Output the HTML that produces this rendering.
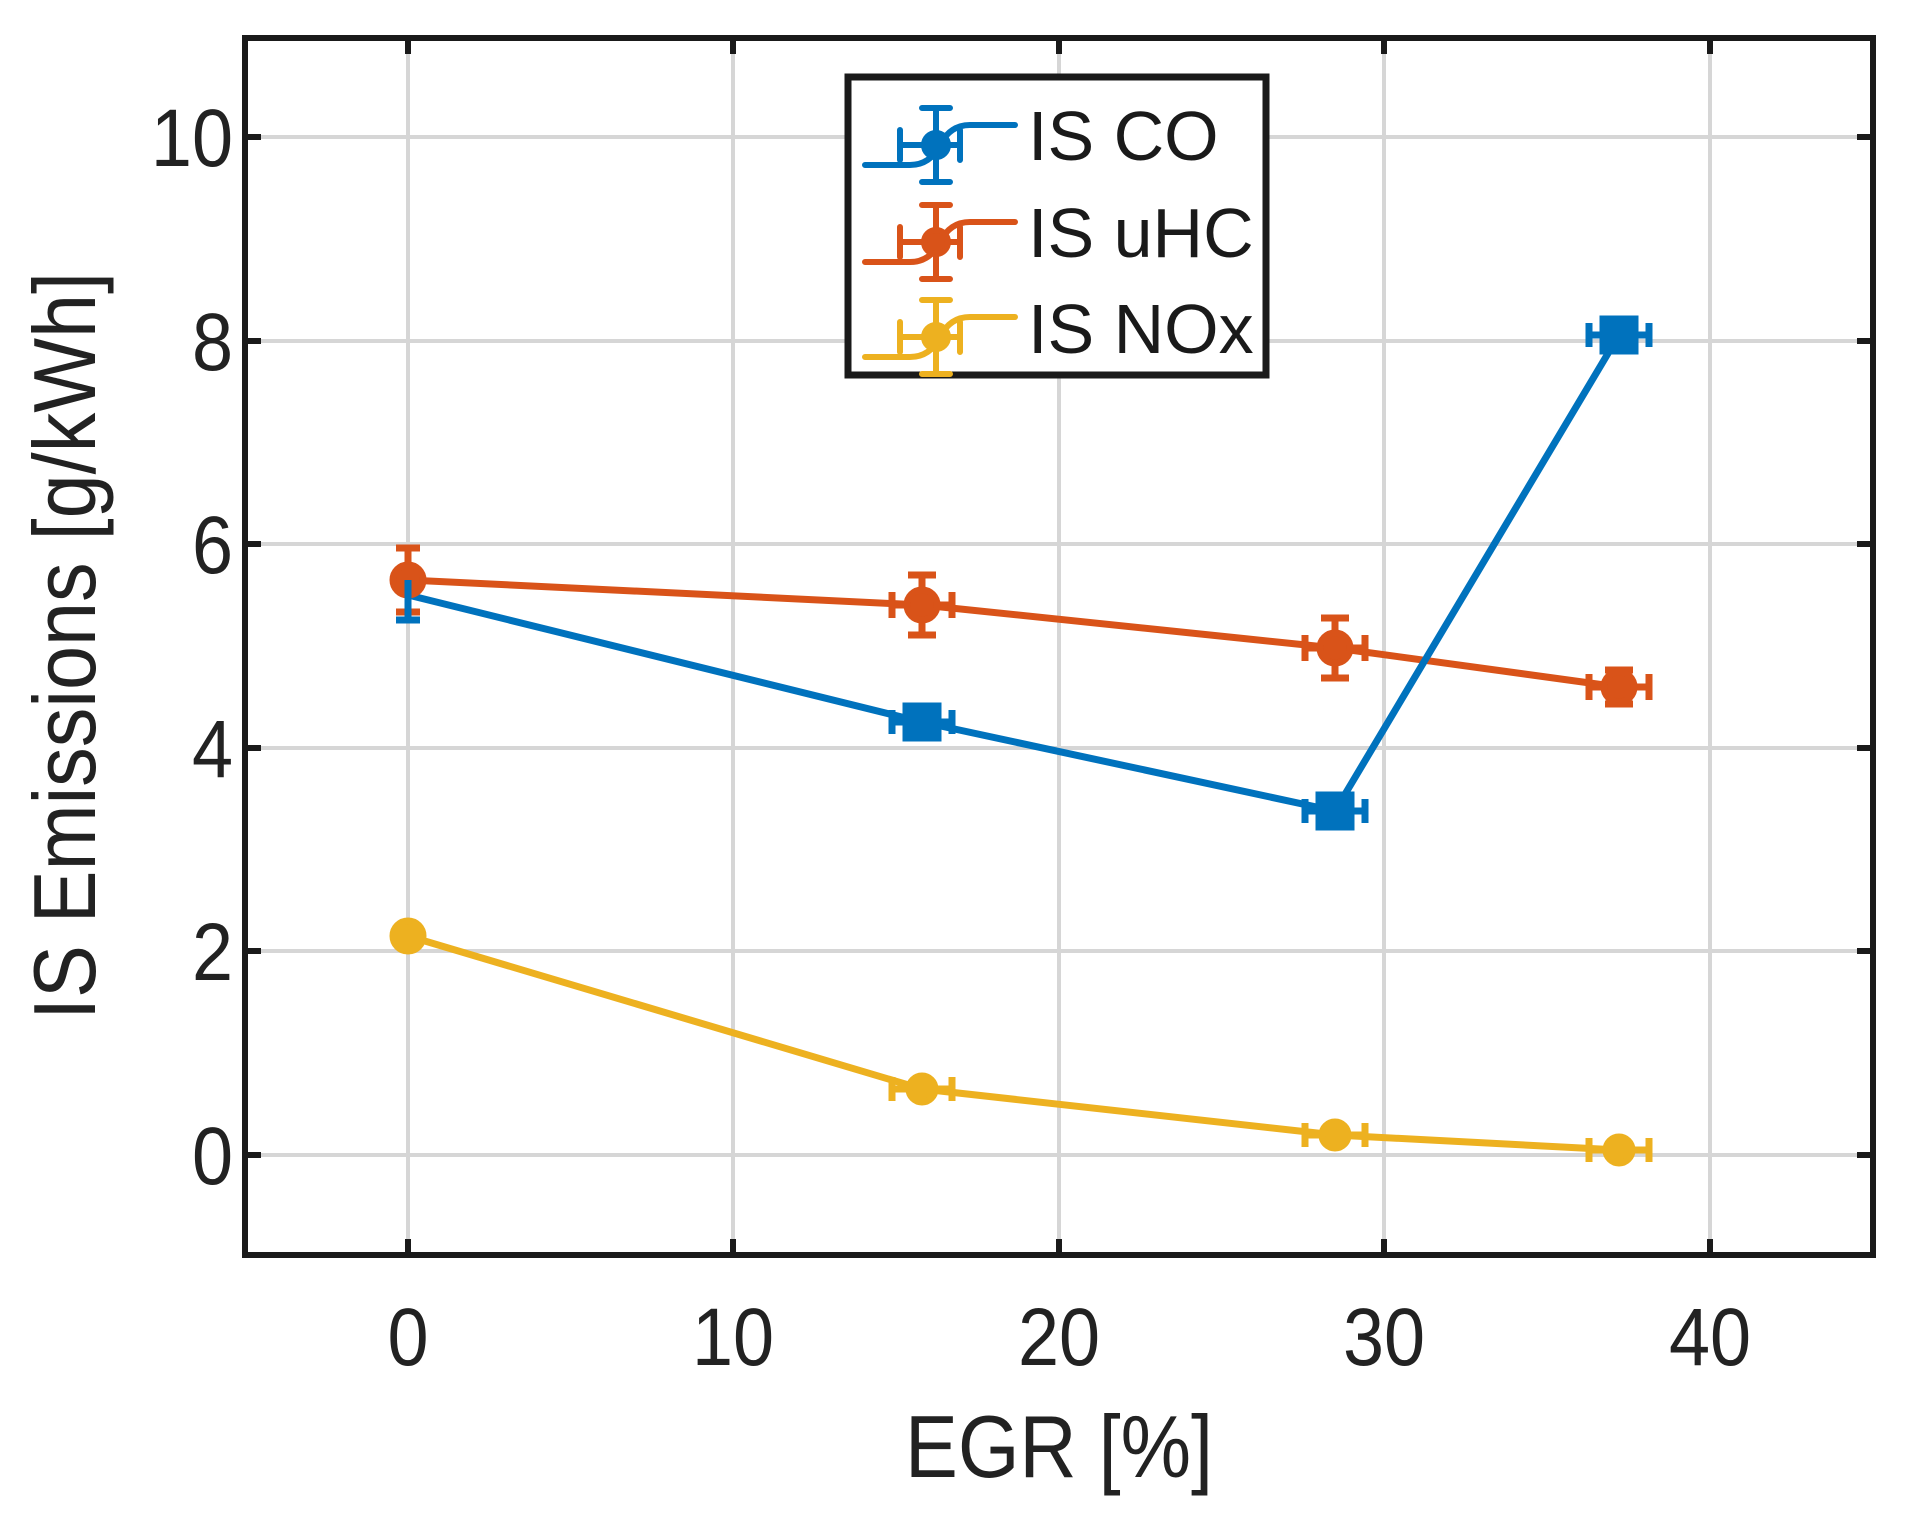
<!DOCTYPE html>
<html><head><meta charset="utf-8"><style>html,body{margin:0;padding:0;background:#fff}svg{display:block}</style></head>
<body>
<svg width="1916" height="1528" viewBox="0 0 1916 1528" xmlns="http://www.w3.org/2000/svg" font-family="Liberation Sans, sans-serif">
<rect width="1916" height="1528" fill="#fff"/>
<g stroke="#d6d6d6" stroke-width="4">
<line x1="408" y1="38" x2="408" y2="1255"/><line x1="733" y1="38" x2="733" y2="1255"/><line x1="1059" y1="38" x2="1059" y2="1255"/><line x1="1384" y1="38" x2="1384" y2="1255"/><line x1="1710" y1="38" x2="1710" y2="1255"/>
<line x1="245" y1="1155" x2="1873" y2="1155"/><line x1="245" y1="951" x2="1873" y2="951"/><line x1="245" y1="748" x2="1873" y2="748"/><line x1="245" y1="544" x2="1873" y2="544"/><line x1="245" y1="341" x2="1873" y2="341"/><line x1="245" y1="137" x2="1873" y2="137"/>
</g>
<g stroke="#1a1a1a" stroke-width="6">
<path d="M408 38v16M733 38v16M1059 38v16M1384 38v16M1710 38v16M408 1255v-16M733 1255v-16M1059 1255v-16M1384 1255v-16M1710 1255v-16"/>
<path d="M245 1155h16M245 951h16M245 748h16M245 544h16M245 341h16M245 137h16M1873 1155h-16M1873 951h-16M1873 748h-16M1873 544h-16M1873 341h-16M1873 137h-16"/>
</g>
<g fill="none" stroke-width="7" stroke-linejoin="round">
<polyline stroke="#EDB120" points="408,936 922,1089 1335,1135 1619,1150"/>
<polyline stroke="#D95319" points="408,580 922,605 1335,648 1619,687"/>
<polyline stroke="#0072BD" points="408,595 922,722 1335,811 1619,335"/>
</g>
<g stroke-width="7">
<g stroke="#EDB120" fill="#EDB120">
<circle cx="408" cy="936" r="15"/>
<path d="M892 1089h60M892 1077v24M952 1077v24M922 1075v28M1305 1135h60M1305 1123v24M1365 1123v24M1335 1121v28M1589 1150h60M1589 1138v24M1649 1138v24M1619 1136v28"/>
<circle cx="922" cy="1089" r="13"/><circle cx="1335" cy="1135" r="13"/><circle cx="1619" cy="1150" r="13"/>
</g>
<g stroke="#D95319" fill="#D95319">
<path d="M408 548v64M396 548h24M396 612h24M392 580h32"/>
<circle cx="408" cy="580" r="15"/>
<path d="M892 605h60M892 592v26M952 592v26M922 575v60M908 575h28M908 635h28M1305 648h60M1305 635v26M1365 635v26M1335 618v60M1321 618h28M1321 678h28M1589 687h60M1589 674v26M1649 674v26M1619 670v34M1605 670h28M1605 704h28"/>
<circle cx="922" cy="605" r="15"/><circle cx="1335" cy="648" r="15"/><circle cx="1619" cy="687" r="15"/>
</g>
<g stroke="#0072BD" fill="#0072BD">
<path d="M408 580v40M396 620h24M892 722h60M892 710v24M952 710v24M1305 811h60M1305 799v24M1365 799v24M1589 335h60M1589 323v24M1649 323v24M1619 317v36"/>
<rect x="906" y="706" width="32" height="32"/><rect x="1319" y="795" width="32" height="32"/><rect x="1603" y="319" width="32" height="32"/>
</g>
</g>
<rect x="245" y="38" width="1628" height="1217" fill="none" stroke="#1a1a1a" stroke-width="6"/>
<rect x="848" y="77" width="418" height="298" fill="#fff" stroke="#1a1a1a" stroke-width="7"/>
<g stroke-width="6" fill="none" stroke-linecap="round">
<g stroke="#0072BD"><path d="M865 165h45q20 0 30-20t30-20h45"/><path d="M900 145h60M900 130v30M960 130v30M936 108v74M922 108h28M922 182h28"/><circle cx="936" cy="145" r="12" fill="#0072BD"/></g>
<g stroke="#D95319"><path d="M865 262h45q20 0 30-20t30-20h45"/><path d="M900 242h60M900 227v30M960 227v30M936 205v74M922 205h28M922 279h28"/><circle cx="936" cy="242" r="12" fill="#D95319"/></g>
<g stroke="#EDB120"><path d="M865 357h45q20 0 30-20t30-20h45"/><path d="M900 337h60M900 322v30M960 322v30M936 300v74M922 300h28M922 374h28"/><circle cx="936" cy="337" r="12" fill="#EDB120"/></g>
</g>
<g font-size="70" fill="#1a1a1a">
<text x="1028" y="160">IS CO</text><text x="1028" y="257">IS uHC</text><text x="1028" y="353">IS NOx</text>
</g>
<g font-size="82" fill="#222" text-anchor="middle">
<text transform="translate(408,1365) scale(0.9,1)">0</text>
<text transform="translate(733,1365) scale(0.9,1)">10</text>
<text transform="translate(1059,1365) scale(0.9,1)">20</text>
<text transform="translate(1384,1365) scale(0.9,1)">30</text>
<text transform="translate(1710,1365) scale(0.9,1)">40</text>
</g>
<g font-size="82" fill="#222" text-anchor="end">
<text transform="translate(233,1184) scale(0.9,1)">0</text>
<text transform="translate(233,980) scale(0.9,1)">2</text>
<text transform="translate(233,777) scale(0.9,1)">4</text>
<text transform="translate(233,573) scale(0.9,1)">6</text>
<text transform="translate(233,370) scale(0.9,1)">8</text>
<text transform="translate(233,166) scale(0.9,1)">10</text>
</g>
<text font-size="88" fill="#222" text-anchor="middle" transform="translate(1059,1477) scale(0.9,1)">EGR [%]</text>
<text font-size="88" fill="#222" text-anchor="middle" transform="translate(95,646) rotate(-90) scale(0.9,1)">IS Emissions [g/kWh]</text>
</svg>
</body></html>
